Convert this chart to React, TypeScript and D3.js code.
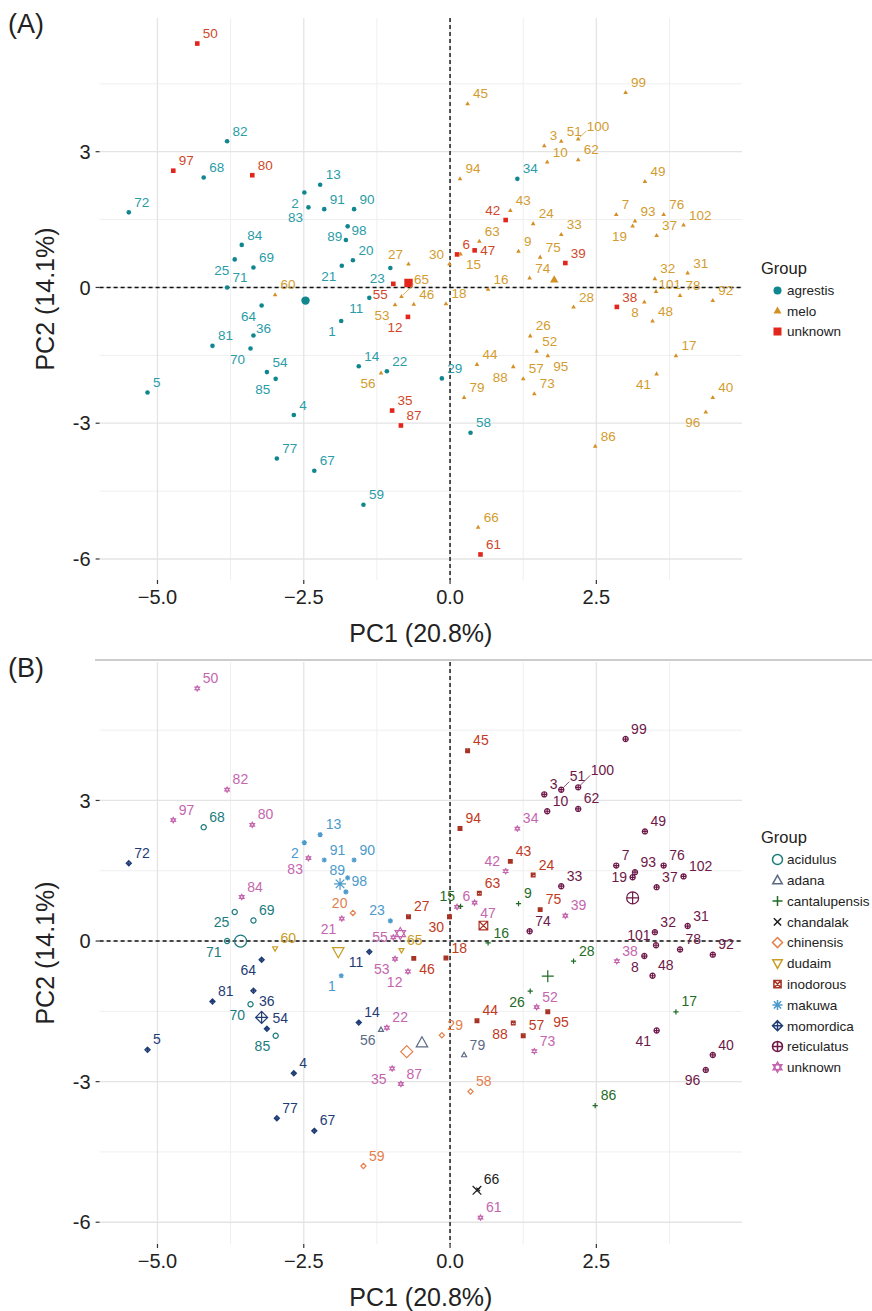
import React, { useMemo } from 'react';
import * as d3 from 'd3';

// sample numbers 1..102, scores
const sampleIds = d3.range(1, 103);

const pc1 = [
  -1.86, -2.49, 1.61, -2.67, -5.17, 0.12, 2.84, 3.32, 1.17, 1.66,
  -1.38, -0.72, -2.22, -1.56, 0.18, 0.65, 3.86, -0.07, 3.12, -1.66,
  -1.85, -1.08, -1.02, 1.42, -3.68, 1.37, -0.71, 2.11, -0.14, -0.01,
  4.06, 3.5, 1.9, 1.15, -0.99, -3.36, 3.53, 2.85, 1.97, 4.49,
  3.53, 0.95, 1.03, 0.46, 0.3, -0.62, 0.42, 3.46, 3.33, -4.32,
  1.9, 1.48, -0.94, -3.13, -0.97, -1.18, 1.25, 0.35, -1.48, -2.99,
  0.52, 2.19, 0.5, -3.22, -0.83, 0.48, -2.32, -4.21, -3.36, -3.41,
  -3.81, -5.49, 1.44, 1.36, 1.54, 3.65, -2.96, 3.93, 0.24, -3.38,
  -4.06, -3.81, -2.42, -3.56, -2.98, 2.48, -0.84, 1.08, -1.75, -1.64,
  -2.15, 4.49, 3.16, 0.17, 1.67, 4.37, -4.73, -1.78, 3.0, 2.19,
  3.52, 3.99,
];

const pc2 = [
  -0.74, 2.1, 3.13, -2.82, -2.32, 0.73, 1.61, -0.32, 0.8, 2.77,
  -0.23, -0.65, 2.27, -1.74, 0.74, -0.04, -1.51, -0.36, 1.36, 0.6,
  0.48, -1.85, 0.43, 1.41, 0.62, -1.07, 0.52, -0.43, -2.01, 0.52,
  0.32, 0.19, 1.17, 2.4, -2.72, -1.06, 1.15, -0.43, 0.54, -2.43,
  -1.91, 1.49, 1.7, -1.7, 4.06, -0.37, 0.82, -0.74, 2.34, 5.39,
  3.23, -1.41, -0.38, -1.87, 0.08, -1.89, -2.02, -3.21, -4.8, -0.16,
  -5.9, 2.82, 1.02, -0.4, -0.2, -5.3, -4.05, 2.43, 0.44, -1.35,
  0.0, 1.66, -2.35, 0.21, 0.67, 1.61, -3.78, -0.18, -2.43, 2.48,
  -1.29, 3.23, 1.77, 0.94, -2.02, -3.51, -3.05, -1.75, 1.35, 1.73,
  1.73, -0.29, 1.47, 2.4, -1.51, -2.75, 2.58, 1.05, 4.31, 3.28,
  -0.09, 1.38,
];

// panel A grouping
const subspecies = [
  'agrestis', 'agrestis', 'melo', 'agrestis', 'agrestis', 'unknown', 'melo', 'melo', 'melo', 'melo',
  'agrestis', 'unknown', 'agrestis', 'agrestis', 'melo', 'melo', 'melo', 'melo', 'melo', 'agrestis',
  'agrestis', 'agrestis', 'agrestis', 'melo', 'agrestis', 'melo', 'melo', 'melo', 'agrestis', 'melo',
  'melo', 'melo', 'melo', 'agrestis', 'unknown', 'agrestis', 'melo', 'unknown', 'unknown', 'melo',
  'melo', 'unknown', 'melo', 'melo', 'melo', 'melo', 'unknown', 'melo', 'melo', 'unknown',
  'melo', 'melo', 'melo', 'agrestis', 'unknown', 'melo', 'melo', 'agrestis', 'agrestis', 'melo',
  'unknown', 'melo', 'melo', 'agrestis', 'melo', 'melo', 'agrestis', 'agrestis', 'agrestis', 'agrestis',
  'agrestis', 'agrestis', 'melo', 'melo', 'melo', 'melo', 'agrestis', 'melo', 'melo', 'unknown',
  'agrestis', 'agrestis', 'agrestis', 'agrestis', 'agrestis', 'melo', 'unknown', 'melo', 'agrestis', 'agrestis',
  'agrestis', 'melo', 'melo', 'melo', 'melo', 'melo', 'unknown', 'agrestis', 'melo', 'melo',
  'melo', 'melo',
];

// panel B grouping
const variety = [
  'makuwa', 'makuwa', 'reticulatus', 'momordica', 'momordica', 'unknown', 'reticulatus', 'reticulatus', 'cantalupensis', 'reticulatus',
  'momordica', 'unknown', 'makuwa', 'momordica', 'cantalupensis', 'cantalupensis', 'cantalupensis', 'inodorous', 'reticulatus', 'chinensis',
  'unknown', 'unknown', 'makuwa', 'inodorous', 'acidulus', 'cantalupensis', 'inodorous', 'cantalupensis', 'chinensis', 'inodorous',
  'reticulatus', 'reticulatus', 'reticulatus', 'unknown', 'unknown', 'momordica', 'reticulatus', 'unknown', 'unknown', 'reticulatus',
  'reticulatus', 'unknown', 'inodorous', 'inodorous', 'inodorous', 'inodorous', 'unknown', 'reticulatus', 'reticulatus', 'unknown',
  'reticulatus', 'unknown', 'unknown', 'momordica', 'unknown', 'adana', 'inodorous', 'chinensis', 'chinensis', 'dudaim',
  'unknown', 'reticulatus', 'inodorous', 'momordica', 'dudaim', 'chandalak', 'momordica', 'acidulus', 'acidulus', 'acidulus',
  'acidulus', 'momordica', 'unknown', 'reticulatus', 'inodorous', 'reticulatus', 'momordica', 'reticulatus', 'adana', 'unknown',
  'momordica', 'unknown', 'unknown', 'unknown', 'acidulus', 'cantalupensis', 'unknown', 'inodorous', 'makuwa', 'makuwa',
  'makuwa', 'reticulatus', 'reticulatus', 'inodorous', 'inodorous', 'reticulatus', 'unknown', 'makuwa', 'reticulatus', 'reticulatus',
  'reticulatus', 'reticulatus',
];

const subspeciesGroups = ['agrestis', 'melo', 'unknown'];
const varietyGroups = [
  'acidulus', 'adana', 'cantalupensis', 'chandalak', 'chinensis', 'dudaim',
  'inodorous', 'makuwa', 'momordica', 'reticulatus', 'unknown',
];

// group centres (larger symbols)
const subspeciesCentroids = [
  { group: 'agrestis', pc1: -2.47, pc2: -0.29 },
  { group: 'melo', pc1: 1.78, pc2: 0.17 },
  { group: 'unknown', pc1: -0.71, pc2: 0.1 },
];
const varietyCentroids = [
  { group: 'acidulus', pc1: -3.58, pc2: 0.0 },
  { group: 'adana', pc1: -0.48, pc2: -2.17 },
  { group: 'cantalupensis', pc1: 1.67, pc2: -0.75 },
  { group: 'chandalak', pc1: 0.46, pc2: -5.32 },
  { group: 'chinensis', pc1: -0.74, pc2: -2.36 },
  { group: 'dudaim', pc1: -1.91, pc2: -0.23 },
  { group: 'inodorous', pc1: 0.57, pc2: 0.33 },
  { group: 'makuwa', pc1: -1.88, pc2: 1.22 },
  { group: 'momordica', pc1: -3.22, pc2: -1.63 },
  { group: 'reticulatus', pc1: 3.12, pc2: 0.92 },
  { group: 'unknown', pc1: -0.85, pc2: 0.16 },
];

const xTicks = [-5, -2.5, 0, 2.5];
const xMinor = [-3.75, -1.25, 1.25, 3.75];
const yTicks = [-6, -3, 0, 3];
const yMinor = [-4.5, -1.5, 1.5, 4.5];

const FONT = '"Liberation Sans", Arial, Helvetica, sans-serif';
const W = 872;
const H = 1311;
const LEFT = 99.6;
const RIGHT = 742;

const styleA: Record<string, { shape: string; mark: string; text: string }> = {
  agrestis: { shape: 'dot', mark: '#10868f', text: '#2a9ca8' },
  melo: { shape: 'tri', mark: '#d48f25', text: '#d39c30' },
  unknown: { shape: 'sq', mark: '#e2261c', text: '#cf482b' },
};

const styleB: Record<string, { shape: string; mark: string; text: string }> = {
  acidulus: { shape: 'circle', mark: '#1b7b7e', text: '#1b7b7e' },
  adana: { shape: 'triangle', mark: '#5c6b85', text: '#5c6b85' },
  cantalupensis: { shape: 'plus', mark: '#1f6b26', text: '#1f6b26' },
  chandalak: { shape: 'cross', mark: '#1c1c1c', text: '#1c1c1c' },
  chinensis: { shape: 'diamond', mark: '#e3804c', text: '#e3804c' },
  dudaim: { shape: 'down', mark: '#c99c24', text: '#c99c24' },
  inodorous: { shape: 'squarex', mark: '#a83223', text: '#bf3a1e' },
  makuwa: { shape: 'asterisk', mark: '#4c9acb', text: '#4c9acb' },
  momordica: { shape: 'diamondplus', mark: '#1f3c75', text: '#1f3c75' },
  reticulatus: { shape: 'circleplus', mark: '#6e1848', text: '#6e1848' },
  unknown: { shape: 'star', mark: '#c466ae', text: '#c466ae' },
};

function openPath(shape: string, s: number): string {
  const circle = `M${-s},0A${s},${s} 0 1,0 ${s},0A${s},${s} 0 1,0 ${-s},0`;
  const plus = `M${-s},0H${s}M0,${-s}V${s}`;
  const k = s * 0.72;
  const cross = `M${-k},${-k}L${k},${k}M${-k},${k}L${k},${-k}`;
  const diamond = `M0,${-s}L${s},0L0,${s}L${-s},0Z`;
  switch (shape) {
    case 'circle': return circle;
    case 'triangle': return `M0,${-s}L${s * 0.95},${s * 0.7}L${-s * 0.95},${s * 0.7}Z`;
    case 'plus': return plus;
    case 'cross': return cross;
    case 'diamond': return diamond;
    case 'down': return `M0,${s}L${s * 0.95},${-s * 0.7}L${-s * 0.95},${-s * 0.7}Z`;
    case 'squarex': return `M${-k},${-k}H${k}V${k}H${-k}Z` + cross;
    case 'asterisk': return plus + cross;
    case 'diamondplus': return diamond + plus;
    case 'circleplus': return circle + plus;
    case 'star': {
      const a = s * 0.87, b = s * 0.5;
      return `M0,${-s}L${a},${b}L${-a},${b}ZM0,${s}L${a},${-b}L${-a},${-b}Z`;
    }
    default: return circle;
  }
}

function Marker({ shape, x, y, s, color, sw }: { shape: string; x: number; y: number; s: number; color: string; sw: number }) {
  if (shape === 'dot') return <circle cx={x} cy={y} r={s} fill={color} />;
  if (shape === 'tri')
    return <path transform={`translate(${x},${y})`} d={`M0,${-s * 1.1}L${s},${s * 0.65}L${-s},${s * 0.65}Z`} fill={color} />;
  if (shape === 'sq') return <rect x={x - s} y={y - s} width={2 * s} height={2 * s} fill={color} />;
  return <path transform={`translate(${x},${y})`} d={openPath(shape, s)} fill="none" stroke={color} strokeWidth={sw} />;
}

type Box = { x0: number; y0: number; x1: number; y1: number };
const overlapArea = (a: Box, b: Box) => {
  const w = Math.min(a.x1, b.x1) - Math.max(a.x0, b.x0);
  const h = Math.min(a.y1, b.y1) - Math.max(a.y0, b.y0);
  return w > 0 && h > 0 ? w * h : 0;
};

// greedy repel-like placement of the sample number labels
function placeLabels(
  pts: { x: number; y: number; text: string }[],
  obstacles: { x: number; y: number; r: number }[],
  bounds: Box,
  fs: number
) {
  const cw = fs * 0.556;
  const hh = fs * 0.78;
  const boxes: Box[] = [];
  const crowd = pts.map(p => pts.filter(q => Math.hypot(q.x - p.x, q.y - p.y) < 40).length);
  const order = d3.range(pts.length).sort((a, b) => crowd[b] - crowd[a] || a - b);
  const dirs = [[1, -1], [-1, 1], [-1, -1], [1, 1], [1, 0], [-1, 0], [0, -1], [0, 1]];
  const steps = [0, 3, 6, 10, 15, 21, 28, 36];
  const res: { cx: number; cy: number; w: number; h: number; dist: number; box: Box }[] = new Array(pts.length);
  for (const i of order) {
    const p = pts[i];
    const w = p.text.length * cw + 1;
    let best: any = null;
    let bestCost = Infinity;
    for (const dist of steps) {
      dirs.forEach(([dx, dy], k) => {
        const cx = p.x + dx * (w / 2 + 2 + dist);
        const cy = p.y + dy * (hh / 2 + 2 + dist);
        const b = { x0: cx - w / 2, x1: cx + w / 2, y0: cy - hh / 2, y1: cy + hh / 2 };
        let cost = dist * 1.5 + k * 0.5;
        for (const q of boxes) cost += 8 * overlapArea(b, q);
        for (const o of obstacles)
          cost += 8 * overlapArea(b, { x0: o.x - o.r, x1: o.x + o.r, y0: o.y - o.r, y1: o.y + o.r });
        const out =
          Math.max(0, bounds.x0 - b.x0) + Math.max(0, b.x1 - bounds.x1) +
          Math.max(0, bounds.y0 - b.y0) + Math.max(0, b.y1 - bounds.y1);
        cost += 100 * out;
        if (cost < bestCost) {
          bestCost = cost;
          best = { cx, cy, w, h: hh, dist, box: b };
        }
      });
    }
    boxes.push({ x0: best.box.x0 - 2, x1: best.box.x1 + 2, y0: best.box.y0 - 1.5, y1: best.box.y1 + 1.5 });
    res[i] = best;
  }
  return res;
}

const expand = (ext: [number, number]): [number, number] => {
  const r = ext[1] - ext[0];
  return [ext[0] - 0.05 * r, ext[1] + 0.05 * r];
};

interface PanelProps {
  tag: string;
  top: number;
  bottom: number;
  groupOf: string[];
  groups: string[];
  centroids: { group: string; pc1: number; pc2: number }[];
  styles: Record<string, { shape: string; mark: string; text: string }>;
  pointSize: number;
  centroidSize: number;
  legendSize: number;
  labelSize: number;
  legendTop: number;
  legendStep: number;
  sw: number;
}

const Panel: React.FC<PanelProps> = p => {
  const x = d3.scaleLinear().domain(expand(d3.extent(pc1) as [number, number])).range([LEFT, RIGHT]);
  const y = d3.scaleLinear().domain(expand(d3.extent(pc2) as [number, number])).range([p.bottom, p.top]);

  const points = sampleIds.map((id, i) => ({
    id, x: x(pc1[i]), y: y(pc2[i]), group: p.groupOf[i], text: String(id),
  }));

  const labels = useMemo(() => {
    const obstacles = [
      ...points.map(d => ({ x: d.x, y: d.y, r: p.pointSize + 0.5 })),
      ...p.centroids.map(c => ({ x: x(c.pc1), y: y(c.pc2), r: p.centroidSize })),
    ];
    return placeLabels(points, obstacles, { x0: LEFT + 2, x1: RIGHT - 2, y0: p.top + 2, y1: p.bottom - 2 }, p.labelSize);
  }, [p.top]);

  const midY = (p.top + p.bottom) / 2;
  const midX = (LEFT + RIGHT) / 2;

  return (
    <g fontFamily={FONT}>
      {/* grid */}
      {xMinor.map(v => (
        <line key={'xm' + v} x1={x(v)} x2={x(v)} y1={p.top} y2={p.bottom} stroke="#efefef" strokeWidth={1} />
      ))}
      {yMinor.map(v => (
        <line key={'ym' + v} x1={LEFT} x2={RIGHT} y1={y(v)} y2={y(v)} stroke="#efefef" strokeWidth={1} />
      ))}
      {xTicks.map(v => (
        <line key={'xg' + v} x1={x(v)} x2={x(v)} y1={p.top} y2={p.bottom} stroke="#e4e4e4" strokeWidth={1.3} />
      ))}
      {yTicks.map(v => (
        <line key={'yg' + v} x1={LEFT} x2={RIGHT} y1={y(v)} y2={y(v)} stroke="#e4e4e4" strokeWidth={1.3} />
      ))}
      <line x1={x(0)} x2={x(0)} y1={p.top} y2={p.bottom} stroke="#111" strokeWidth={1.4} strokeDasharray="4,3" />
      <line x1={LEFT} x2={RIGHT} y1={y(0)} y2={y(0)} stroke="#111" strokeWidth={1.4} strokeDasharray="4,3" />

      {/* axes */}
      {xTicks.map(v => (
        <g key={'xt' + v}>
          <line x1={x(v)} x2={x(v)} y1={p.bottom} y2={p.bottom + 4} stroke="#333" strokeWidth={1.2} />
          <text x={x(v)} y={p.bottom + 24} textAnchor="middle" fontSize={20} fill="#222">
            {d3.format('.1f')(v)}
          </text>
        </g>
      ))}
      {yTicks.map(v => (
        <g key={'yt' + v}>
          <line x1={LEFT - 4} x2={LEFT} y1={y(v)} y2={y(v)} stroke="#333" strokeWidth={1.2} />
          <text x={LEFT - 9} y={y(v)} dy="0.36em" textAnchor="end" fontSize={20} fill="#222">
            {v}
          </text>
        </g>
      ))}
      <text x={midX} y={p.bottom + 62} textAnchor="middle" fontSize={25} fill="#222">PC1 (20.8%)</text>
      <text transform={`translate(54,${midY}) rotate(-90)`} textAnchor="middle" fontSize={25} fill="#222">PC2 (14.1%)</text>
      <text x={8} y={p.top + 15} fontSize={27} fill="#222">{p.tag}</text>

      {/* centroids */}
      {p.centroids.map(c => (
        <Marker key={'c' + c.group} shape={p.styles[c.group].shape} x={x(c.pc1)} y={y(c.pc2)}
          s={p.centroidSize} color={p.styles[c.group].mark} sw={p.sw} />
      ))}

      {/* points */}
      {points.map(d => (
        <Marker key={'p' + d.id} shape={p.styles[d.group].shape} x={d.x} y={d.y}
          s={p.pointSize} color={p.styles[d.group].mark} sw={p.sw} />
      ))}

      {/* labels */}
      {points.map((d, i) => {
        const l = labels[i];
        const st = p.styles[d.group];
        let seg = null;
        if (l.dist >= 6) {
          const ex = Math.max(l.box.x0, Math.min(d.x, l.box.x1));
          const ey = Math.max(l.box.y0, Math.min(d.y, l.box.y1));
          const len = Math.hypot(ex - d.x, ey - d.y);
          if (len > 4) {
            const sx = d.x + ((ex - d.x) / len) * 2.5;
            const sy = d.y + ((ey - d.y) / len) * 2.5;
            seg = <line x1={sx} y1={sy} x2={ex} y2={ey} stroke={st.text} strokeWidth={0.8} />;
          }
        }
        return (
          <g key={'l' + d.id}>
            {seg}
            <text x={l.cx} y={l.cy} dy="0.36em" textAnchor="middle" fontSize={p.labelSize} fill={st.text}>
              {d.text}
            </text>
          </g>
        );
      })}

      {/* legend */}
      <text x={761} y={p.legendTop + 6} fontSize={16.5} fill="#222">Group</text>
      {p.groups.map((g, i) => {
        const cy = p.legendTop + 22.5 + i * p.legendStep;
        return (
          <g key={'lg' + g}>
            <Marker shape={p.styles[g].shape} x={777.5} y={cy} s={p.legendSize} color={p.styles[g].mark} sw={1.5} />
            <text x={787} y={cy} dy="0.36em" fontSize={13.5} fill="#222">{g}</text>
          </g>
        );
      })}
    </g>
  );
};

const App: React.FC = () => {
  return (
    <div style={{ position: 'absolute', left: 0, top: 0 }}>
      <svg width={W} height={H} viewBox={`0 0 ${W} ${H}`} style={{ display: 'block', background: '#fff' }}>
        <rect width={W} height={H} fill="#fff" />
        <Panel tag="(A)" top={18} bottom={580} groupOf={subspecies} groups={subspeciesGroups}
          centroids={subspeciesCentroids} styles={styleA} pointSize={2.3} centroidSize={4.2}
          legendSize={4} labelSize={13.5} legendTop={268} legendStep={20.5} sw={1.2} />
        <line x1={95} x2={W} y1={660} y2={660} stroke="#999" strokeWidth={1} />
        <Panel tag="(B)" top={662} bottom={1244} groupOf={variety} groups={varietyGroups}
          centroids={varietyCentroids} styles={styleB} pointSize={2.6} centroidSize={6}
          legendSize={5} labelSize={14} legendTop={837} legendStep={20.77} sw={1.2} />
      </svg>
    </div>
  );
};

export default App;
